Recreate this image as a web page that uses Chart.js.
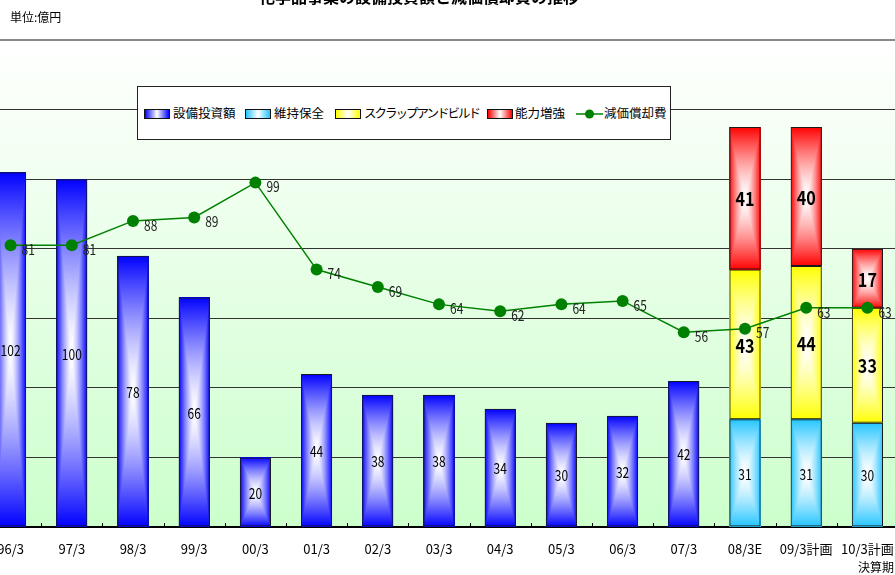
<!DOCTYPE html>
<html><head><meta charset="utf-8">
<script src="https://cdn.jsdelivr.net/npm/chart.js@4/dist/chart.umd.min.js"></script>
<style>
html,body{margin:0;padding:0;background:#fff;}
body{width:895px;height:575px;position:relative;overflow:hidden;font-family:'Noto Sans CJK JP',sans-serif;}
#c{position:absolute;left:-20px;top:0;width:918px;height:575px;}
.t{position:absolute;font-size:12px;line-height:14px;color:#000;white-space:nowrap;}
#legend{position:absolute;left:137px;top:86px;width:532px;height:52px;background:#fff;border:1px solid #222;}
.sw{position:absolute;top:22px;width:24px;height:8px;border:1px solid #111;}
.lt{position:absolute;top:19px;font-size:12.5px;line-height:14px;white-space:nowrap;color:#000;}
</style></head>
<body>
<canvas id="c" width="918" height="575"></canvas>
<div class="t" style="left:0;width:838px;top:-12px;text-align:center;font-weight:bold;font-size:16px;line-height:16px;">化学品事業の設備投資額と減価償却費の推移</div>
<div class="t" style="left:10px;top:10px;">単位:億円</div>
<div class="t" style="left:858px;top:560px;">決算期</div>
<div id="legend">
  <div class="sw" style="left:6px;background:linear-gradient(to right,#0000ff,#ffffff,#0000ff);"></div>
  <div class="lt" style="left:35px;">設備投資額</div>
  <div class="sw" style="left:107px;background:linear-gradient(to right,#22c4ff,#ffffff,#22c4ff);"></div>
  <div class="lt" style="left:136px;">維持保全</div>
  <div class="sw" style="left:197px;background:linear-gradient(to right,#ffff00,#ffffff,#ffff00);"></div>
  <div class="lt" style="left:226px;letter-spacing:-2px;">スクラップアンドビルド</div>
  <div class="sw" style="left:349px;background:linear-gradient(to right,#ff0000,#ffffff,#ff0000);"></div>
  <div class="lt" style="left:377px;">能力増強</div>
  <svg style="position:absolute;left:438px;top:20px;" width="28" height="14"><line x1="0" y1="7" x2="27" y2="7" stroke="#008000" stroke-width="1.5"/><circle cx="13.5" cy="7" r="4.5" fill="#008000"/></svg>
  <div class="lt" style="left:466px;">減価償却費</div>
</div>
<script>
const categories = ['96/3','97/3','98/3','99/3','00/3','01/3','02/3','03/3','04/3','05/3','06/3','07/3','08/3E','09/3計画','10/3計画'];
const capex       = [102,100,78,66,20,44,38,38,34,30,32,42,null,null,null];
const maintenance = [null,null,null,null,null,null,null,null,null,null,null,null,31,31,30];
const scrapBuild  = [null,null,null,null,null,null,null,null,null,null,null,null,43,44,33];
const capacity    = [null,null,null,null,null,null,null,null,null,null,null,null,41,40,17];
const depreciation= [81,81,88,89,99,74,69,64,62,64,65,56,57,63,63];
const yTicks = [0,20,40,60,80,100,120,140];

const NUMFONT = "'Liberation Sans Narrow','Noto Sans CJK JP',sans-serif";
const barColors = [[0,0,255],[34,196,255],[255,255,0],[255,0,0]];

function paintBar(ctx, el, rgb){
  const x0 = Math.round(el.x - el.width/2), x1 = Math.round(el.x + el.width/2);
  const top = Math.round(Math.min(el.y, el.base)), bot = Math.round(Math.max(el.y, el.base));
  const w = x1-x0, h = bot-top;
  if (w<=0 || h<=0) return;
  const img = ctx.createImageData(w,h);
  const cx = w/2, cy = h/2;
  for (let j=0;j<h;j++){
    for (let i=0;i<w;i++){
      const dx = Math.abs(i+0.5-cx)/cx, dy = Math.abs(j+0.5-cy)/cy;
      let t = Math.pow(Math.max(dx,dy), 1.4);
      const k = (j*w+i)*4;
      img.data[k]   = 255 + (rgb[0]-255)*t;
      img.data[k+1] = 255 + (rgb[1]-255)*t;
      img.data[k+2] = 255 + (rgb[2]-255)*t;
      img.data[k+3] = 255;
    }
  }
  ctx.putImageData(img, x0, top);
}

const bgPlugin = {
  id:'bg',
  beforeDraw(chart){
    const {ctx, chartArea:a} = chart;
    const g = ctx.createLinearGradient(0,a.top,0,a.bottom);
    g.addColorStop(0,'#ffffff');
    g.addColorStop(1,'#ccffcc');
    ctx.save(); ctx.fillStyle = g; ctx.fillRect(a.left,a.top,a.right-a.left,a.bottom-a.top); ctx.restore();
  },
  beforeDatasetsDraw(chart){
    const ctx = chart.ctx;
    for (let d=0; d<4; d++){
      const meta = chart.getDatasetMeta(d);
      meta.data.forEach((el,i)=>{
        if (chart.data.datasets[d].data[i]==null) return;
        paintBar(ctx, el, barColors[d]);
      });
    }
  },
  afterDatasetsDraw(chart){
    const ctx = chart.ctx;
    ctx.save();
    ctx.fillStyle = '#000';
    ctx.textBaseline = 'middle';
    chart.data.datasets.forEach((ds,d)=>{
      const meta = chart.getDatasetMeta(d);
      meta.data.forEach((el,i)=>{
        const v = ds.data[i];
        if (v==null) return;
        ctx.save();
        if (d<4){
          const bold = (d===2 || d===3);
          ctx.font = (bold ? 'bold 19px ' : '15px ') + NUMFONT;
          ctx.textAlign = 'center';
          const sx = bold ? 0.85 : 0.8;
          ctx.translate(el.x, (el.y+el.base)/2 + 1);
          ctx.scale(sx,1);
          ctx.fillText(String(v),0,0);
        } else {
          ctx.font = '15px ' + NUMFONT;
          ctx.textAlign = 'left';
          ctx.fillStyle = '#222';
          ctx.translate(el.x+11, el.y+4);
          ctx.scale(0.8,1);
          ctx.fillText(String(v),0,0);
        }
        ctx.restore();
      });
    });
    const xs = chart.scales.x, a = chart.chartArea;
    const half = (xs.getPixelForValue(1)-xs.getPixelForValue(0))/2;
    ctx.strokeStyle = '#000'; ctx.lineWidth = 1;
    for (let i=0;i<categories.length-1;i++){
      const x = Math.round(xs.getPixelForValue(i)+half)+0.5;
      ctx.beginPath(); ctx.moveTo(x,a.bottom); ctx.lineTo(x,a.bottom-4); ctx.stroke();
    }
    ctx.restore();
  }
};

const barCommon = {type:'bar', stack:'a', backgroundColor:'rgba(0,0,0,0)', borderColor:'#1a1a1a', borderWidth:1, borderSkipped:false, barPercentage:0.51, categoryPercentage:1};

new Chart(document.getElementById('c'), {
  data:{
    labels: categories,
    datasets:[
      Object.assign({label:'設備投資額', data:capex}, barCommon),
      Object.assign({label:'維持保全', data:maintenance}, barCommon),
      Object.assign({label:'スクラップアンドビルド', data:scrapBuild}, barCommon),
      Object.assign({label:'能力増強', data:capacity}, barCommon),
      {type:'line', label:'減価償却費', data:depreciation, stack:'line', order:-1,
       borderColor:'#008000', borderWidth:1.5, pointRadius:6, pointBackgroundColor:'#008000',
       pointBorderColor:'#008000', pointBorderWidth:0, tension:0, fill:false, clip:false}
    ]
  },
  options:{
    responsive:false, maintainAspectRatio:false, animation:false, devicePixelRatio:1,
    layout:{autoPadding:false, padding:{top:40,left:0,right:0,bottom:0}},
    plugins:{legend:{display:false}, tooltip:{enabled:false}, title:{display:false}},
    scales:{
      x:{stacked:true, offset:true,
         grid:{display:false, drawTicks:false},
         border:{display:true,color:'#000',width:2},
         ticks:{autoSkip:false,maxRotation:0,padding:14,color:'#000',font:{family:NUMFONT,size:13}},
         afterFit(s){ s.height = 48; s.paddingLeft = 0; s.paddingRight = 0; }
      },
      y:{stacked:true, min:0, max:140,
         afterBuildTicks(s){ s.ticks = yTicks.map(v=>({value:v})); },
         ticks:{display:false},
         border:{display:false},
         grid:{drawTicks:false,
               color:(c)=> c.tick.value===0 ? 'rgba(0,0,0,0)' : (c.tick.value===140 ? '#8a8a8a' : '#333'),
               lineWidth:(c)=> c.tick.value===140 ? 2 : 1},
         afterFit(s){ s.width = 0; s.paddingTop = 0; s.paddingBottom = 0; }
      }
    }
  },
  plugins:[bgPlugin]
});
</script>
</body></html>
